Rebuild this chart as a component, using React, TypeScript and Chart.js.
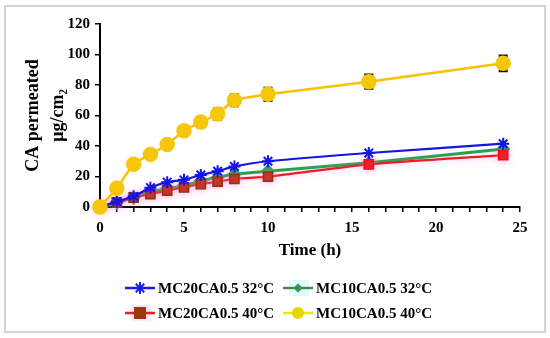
import React, { useEffect, useRef } from "react";
import { Chart, registerables } from "chart.js";

Chart.register(...registerables);

const hours = [0, 1, 2, 3, 4, 5, 6, 7, 8, 10, 16, 24];
const mc20_32 = [0, 3.5, 7, 12.7, 16.3, 17.8, 21, 23.5, 26.6, 30, 35.4, 41.5];
const mc10_32 = [0, 3, 6, 10, 12, 14, 17, 19.5, 21.5, 23.5, 29, 38];
const mc20_40 = [0, 3, 6.1, 8.5, 10.7, 12.9, 14.9, 16.6, 18.4, 19.9, 28, 34];
const mc10_40 = [0, 12.3, 28, 34.5, 41, 50, 55.7, 61, 70, 73.9, 82.2, 94.2];
const mc10_40err = [0, 1, 1.2, 1.5, 1.5, 2, 3, 3.5, 3.6, 4, 4.4, 4.8];

const seriesLabels = ["MC20CA0.5 32°C", "MC10CA0.5 32°C", "MC20CA0.5 40°C", "MC10CA0.5 40°C"];
const xTickLabels = [0, 5, 10, 15, 20, 25];
const yTitle = ["CA permeated", "μg/cm₂"];
const xTitle = "Time (h)";

const SERIF = "'Liberation Serif', 'Times New Roman', 'DejaVu Serif', serif";

const pts = (ys: number[]) => hours.map((h, i) => ({ x: h, y: ys[i] }));

const legendStyles = [
  { line: "#1a1aee", fill: "#1a1aee", shape: "star", bg: null },
  { line: "#3c8c50", fill: "#3c8c50", shape: "diamond", bg: "rgba(215,250,248,0.8)" },
  { line: "#e02020", fill: "#9a3a08", shape: "square", bg: "rgba(255,222,245,0.8)" },
  { line: "#f0e020", fill: "#e8d400", shape: "circle", bg: null },
];

function drawMarker(ctx: CanvasRenderingContext2D, shape: string, x: number, y: number, color: string) {
  ctx.save();
  ctx.fillStyle = color;
  ctx.strokeStyle = color;
  ctx.lineWidth = 2;
  ctx.beginPath();
  if (shape === "star") {
    const r = 6;
    for (let k = 0; k < 4; k++) {
      const a = (k * Math.PI) / 4;
      ctx.moveTo(x - r * Math.cos(a), y - r * Math.sin(a));
      ctx.lineTo(x + r * Math.cos(a), y + r * Math.sin(a));
    }
    ctx.stroke();
  } else if (shape === "diamond") {
    const r = 4.5;
    ctx.moveTo(x, y - r);
    ctx.lineTo(x + r, y);
    ctx.lineTo(x, y + r);
    ctx.lineTo(x - r, y);
    ctx.closePath();
    ctx.fill();
  } else if (shape === "square") {
    ctx.fillRect(x - 6, y - 6, 12, 12);
  } else {
    ctx.arc(x, y, 6, 0, Math.PI * 2);
    ctx.fill();
  }
  ctx.restore();
}

const framePlugin = {
  id: "frame",
  beforeDraw(chart: any) {
    const ctx = chart.ctx as CanvasRenderingContext2D;
    ctx.save();
    ctx.fillStyle = "#ffffff";
    ctx.fillRect(0, 0, chart.width, chart.height);
    ctx.strokeStyle = "#d4d4d4";
    ctx.lineWidth = 2;
    ctx.strokeRect(5, 6, chart.width - 10, chart.height - 12);
    ctx.restore();
  },
};

const effectsPlugin = {
  id: "effects",
  beforeDatasetDraw(chart: any, args: any) {
    const ctx = chart.ctx as CanvasRenderingContext2D;
    const ds = chart.data.datasets[args.index];
    if (ds.glow) {
      ctx.save();
      ctx.shadowColor = "rgba(255,120,220,0.6)";
      ctx.shadowBlur = 7;
    }
    if (ds.errors) {
      const xs = chart.scales.x;
      const ys = chart.scales.y;
      ctx.save();
      ctx.strokeStyle = "#111";
      ctx.lineWidth = 2;
      ds.data.forEach((p: any, i: number) => {
        const e = ds.errors[i];
        if (!e) return;
        const px = xs.getPixelForValue(p.x);
        const top = ys.getPixelForValue(p.y + e);
        const bot = ys.getPixelForValue(p.y - e);
        ctx.beginPath();
        ctx.moveTo(px, top);
        ctx.lineTo(px, bot);
        ctx.stroke();
        ctx.lineWidth = 3;
        ctx.beginPath();
        ctx.moveTo(px - 4.5, top);
        ctx.lineTo(px + 4.5, top);
        ctx.moveTo(px - 4.5, bot);
        ctx.lineTo(px + 4.5, bot);
        ctx.stroke();
        ctx.lineWidth = 2;
      });
      ctx.restore();
    }
  },
  afterDatasetDraw(chart: any, args: any) {
    const ds = chart.data.datasets[args.index];
    if (ds.glow) chart.ctx.restore();
  },
};

const legendPlugin = {
  id: "customLegend",
  afterDraw(chart: any) {
    const ctx = chart.ctx as CanvasRenderingContext2D;
    const labels = chart.data.datasets.map((d: any) => d.label);
    ctx.save();
    ctx.font = `bold 15px ${SERIF}`;
    ctx.textBaseline = "middle";
    ctx.textAlign = "left";
    const lineLen = 30;
    const gapText = 3;
    const gapItem = 9;
    const colW = [0, 1].map((c) =>
      Math.max(...[c, c + 2].map((i) => lineLen + gapText + ctx.measureText(labels[i]).width))
    );
    const total = colW[0] + gapItem + colW[1];
    const startX = 278.5 - total / 2;
    const rowsY = [288, 313];
    labels.forEach((lab: string, i: number) => {
      const col = i % 2;
      const row = Math.floor(i / 2);
      const x0 = col === 0 ? startX : startX + colW[0] + gapItem;
      const y = rowsY[row];
      const st = legendStyles[i];
      if (st.bg) {
        ctx.fillStyle = st.bg;
        ctx.fillRect(x0 + 6, y - 8, lineLen - 10, 16);
      }
      ctx.strokeStyle = st.line;
      ctx.lineWidth = 2.5;
      ctx.beginPath();
      ctx.moveTo(x0, y);
      ctx.lineTo(x0 + lineLen, y);
      ctx.stroke();
      drawMarker(ctx, st.shape, x0 + lineLen / 2, y, st.fill);
      ctx.fillStyle = "#000";
      ctx.fillText(lab, x0 + lineLen + gapText, y + 1);
    });
    ctx.restore();
  },
};

export default function App() {
  const ref = useRef<HTMLCanvasElement | null>(null);
  useEffect(() => {
    if (!ref.current) return;
    const chart = new Chart(ref.current, {
      type: "line",
      data: {
        datasets: [
          {
            label: seriesLabels[0],
            data: pts(mc20_32),
            borderColor: "#1414e6",
            backgroundColor: "#1414e6",
            pointBackgroundColor: "#1414e6",
            pointBorderColor: "#1414e6",
            pointStyle: "star",
            pointRadius: 6,
            pointBorderWidth: 2,
            borderWidth: 2.2,
            tension: 0.25,
            order: 2,
            clip: false,
          } as any,
          {
            label: seriesLabels[1],
            data: pts(mc10_32),
            borderColor: "#16a64a",
            backgroundColor: "#16a64a",
            pointBackgroundColor: "#16a64a",
            pointBorderColor: "#16a64a",
            pointStyle: "rectRot",
            pointRadius: 5,
            borderWidth: 3,
            tension: 0.25,
            order: 4,
            clip: false,
          } as any,
          {
            label: seriesLabels[2],
            data: pts(mc20_40),
            borderColor: "#ee1c1c",
            backgroundColor: "#ee1c1c",
            pointBackgroundColor: (c: any) => (c.raw && c.raw.x <= 10 ? "#c2260c" : "#ee1010"),
            pointBorderColor: (c: any) => (c.raw && c.raw.x <= 10 ? "#8a3a08" : "#ee1010"),
            pointStyle: "rect",
            pointRadius: 6.5,
            pointBorderWidth: 1.5,
            borderWidth: 2.2,
            tension: 0.25,
            order: 3,
            clip: false,
            glow: true,
          } as any,
          {
            label: seriesLabels[3],
            data: pts(mc10_40),
            borderColor: "#ffbf00",
            backgroundColor: "#f5c70a",
            pointBackgroundColor: "#f5c70a",
            pointBorderColor: "#f5c70a",
            pointStyle: "circle",
            pointRadius: 6.5,
            borderWidth: 2.5,
            tension: 0.2,
            order: 1,
            clip: false,
            errors: mc10_40err,
          } as any,
        ],
      },
      options: {
        responsive: false,
        animation: false,
        devicePixelRatio: 1,
        layout: { padding: { left: 0, top: 24, right: 30, bottom: 71 } },
        plugins: {
          legend: { display: false },
          tooltip: { enabled: false },
        },
        scales: {
          x: {
            type: "linear",
            min: 0,
            max: 25,
            afterFit: (s: any) => {
              s.height = 60;
            },
            ticks: {
              stepSize: 1,
              autoSkip: false,
              maxRotation: 0,
              padding: 7,
              color: "#000",
              font: { family: SERIF, size: 15, weight: "bold" },
              callback: (v: any) => (xTickLabels.includes(Number(v)) ? String(v) : ""),
            },
            grid: {
              drawOnChartArea: false,
              drawTicks: true,
              tickLength: 5,
              color: "#000",
              lineWidth: 1.5,
            },
            border: { color: "#000", width: 2 },
            title: {
              display: true,
              text: xTitle,
              color: "#000",
              font: { family: SERIF, size: 17, weight: "bold" },
              padding: { top: 0, bottom: 6 },
            },
          },
          y: {
            type: "linear",
            min: 0,
            max: 120,
            afterFit: (s: any) => {
              s.width = 100;
            },
            ticks: {
              stepSize: 20,
              padding: 5,
              color: "#000",
              font: { family: SERIF, size: 15, weight: "bold" },
            },
            grid: {
              drawOnChartArea: false,
              drawTicks: true,
              tickLength: 5,
              color: "#000",
              lineWidth: 1.5,
            },
            border: { color: "#000", width: 2 },
            title: {
              display: true,
              text: yTitle,
              color: "#000",
              font: { family: SERIF, size: 18, weight: "bold", lineHeight: 1.39 },
              padding: { top: 21, bottom: 0 },
            },
          },
        },
      } as any,
      plugins: [framePlugin, effectsPlugin, legendPlugin],
    });
    return () => chart.destroy();
  }, []);
  return (
    <div style={{ position: "fixed", left: 0, top: 0, width: 550, height: 338 }}>
      <canvas ref={ref} width={550} height={338} style={{ display: "block" }} />
    </div>
  );
}
